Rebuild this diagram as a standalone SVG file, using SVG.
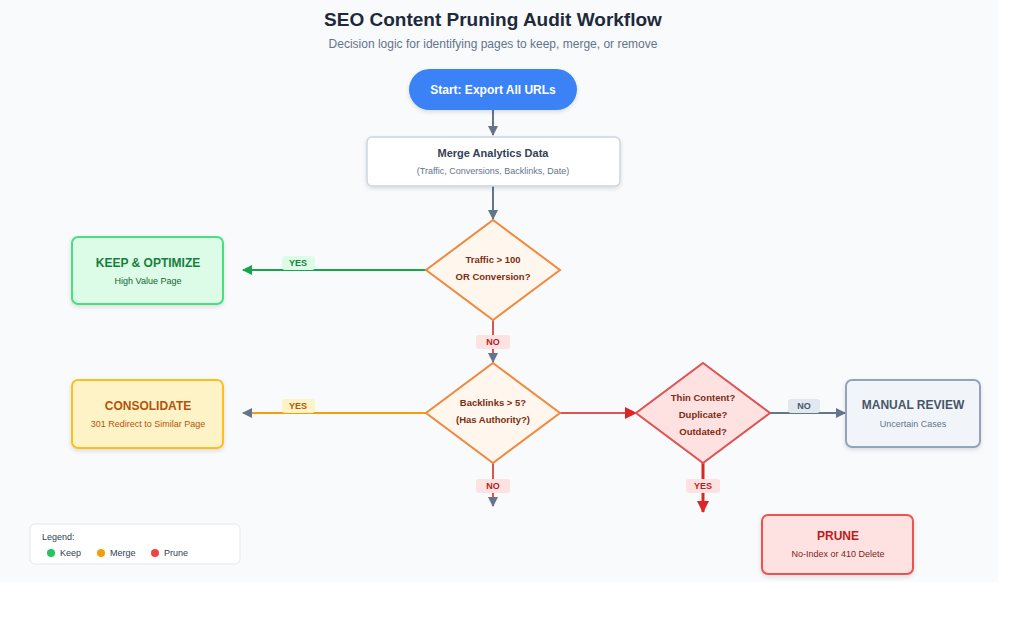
<svg xmlns="http://www.w3.org/2000/svg" width="1024" height="627" viewBox="0 0 1024 627">
<defs>
<marker id="ag" markerWidth="10" markerHeight="10" refX="9" refY="5" orient="auto" markerUnits="userSpaceOnUse"><path d="M0,0 L10,5 L0,10 z" fill="#16a34a"/></marker>
<marker id="as" markerWidth="10" markerHeight="10" refX="9" refY="5" orient="auto" markerUnits="userSpaceOnUse"><path d="M0,0 L10,5 L0,10 z" fill="#64748b"/></marker>
<marker id="ar" markerWidth="12" markerHeight="12" refX="11" refY="6" orient="auto" markerUnits="userSpaceOnUse"><path d="M0,0 L12,6 L0,12 z" fill="#dc2626"/></marker>
<filter id="sh" x="-10%" y="-10%" width="130%" height="140%"><feDropShadow dx="0" dy="2" stdDeviation="2" flood-color="#000" flood-opacity="0.12"/></filter>
</defs>
<style>
text{font-family:"Liberation Sans",Arial,sans-serif;text-anchor:middle}
.t{font-weight:bold;font-size:12px}
.s{font-size:9px}
.d{font-weight:bold;font-size:9.5px;fill:#7c2d12}
.lb{font-weight:bold;font-size:9px}
.c{fill:none;stroke-width:2}
</style>
<rect width="1024" height="627" fill="#ffffff"/>
<rect x="0" y="0" width="998" height="582" fill="#f8fafc"/>
<text x="493" y="26" font-size="19" font-weight="bold" fill="#1e293b">SEO Content Pruning Audit Workflow</text>
<text x="493" y="48" font-size="12" fill="#64748b">Decision logic for identifying pages to keep, merge, or remove</text>

<g id="connectors">
<line class="c" x1="493" y1="110" x2="493" y2="135" stroke="#64748b" marker-end="url(#as)"/>
<line class="c" x1="493" y1="186" x2="493" y2="219" stroke="#64748b" marker-end="url(#as)"/>
<line class="c" x1="426" y1="270" x2="243" y2="270" stroke="#16a34a" marker-end="url(#ag)"/>
<rect x="282" y="256" width="33" height="14" rx="3" fill="#dcfce7"/><text class="lb" x="298" y="266" fill="#15803d">YES</text>
<line class="c" x1="493" y1="320" x2="493" y2="362" stroke="#e05252" marker-end="url(#as)"/>
<rect x="476" y="335" width="34" height="14" rx="3" fill="#fee2e2"/><text class="lb" x="493" y="345" fill="#b91c1c">NO</text>
<line class="c" x1="426" y1="413" x2="243" y2="413" stroke="#f59e0b" marker-end="url(#as)"/>
<rect x="282" y="399" width="33" height="14" rx="3" fill="#fef3c7"/><text class="lb" x="298" y="409" fill="#b45309">YES</text>
<line class="c" x1="560" y1="413" x2="636" y2="413" stroke="#e05252" marker-end="url(#ar)"/>
<line class="c" x1="770" y1="413" x2="845" y2="413" stroke="#64748b" marker-end="url(#as)"/>
<rect x="788" y="399" width="32" height="14" rx="3" fill="#e2e8f0"/><text class="lb" x="804" y="409" fill="#475569">NO</text>
<line class="c" x1="493" y1="463" x2="493" y2="506" stroke="#e05252" marker-end="url(#as)"/>
<rect x="476" y="479" width="34" height="14" rx="3" fill="#fee2e2"/><text class="lb" x="493" y="489" fill="#b91c1c">NO</text>
<line x1="703" y1="463" x2="703" y2="512" stroke="#dc2626" stroke-width="3" marker-end="url(#ar)"/>
<rect x="686" y="479" width="34" height="14" rx="3" fill="#fee2e2"/><text class="lb" x="703" y="489" fill="#b91c1c">YES</text>
</g>

<g id="start"><rect x="409" y="69" width="168" height="41" rx="20.5" fill="#3b82f6" filter="url(#sh)"/><text class="t" x="493" y="94" fill="#fff">Start: Export All URLs</text></g>
<g id="merge"><rect x="367" y="137" width="253" height="49" rx="5" fill="#fff" stroke="#cbd5e1" stroke-width="1.5" filter="url(#sh)"/><text x="493" y="157" font-size="11" font-weight="bold" fill="#334155">Merge Analytics Data</text><text class="s" x="493" y="174" fill="#64748b">(Traffic, Conversions, Backlinks, Date)</text></g>
<g id="d1"><polygon points="493,220 560,270 493,320 426,270" fill="#fff7ed" stroke="#f0883e" stroke-width="2"/><text class="d" x="493" y="263">Traffic &gt; 100</text><text class="d" x="493" y="280">OR Conversion?</text></g>
<g id="keep"><rect x="72" y="237" width="151" height="67" rx="6" fill="#dcfce7" stroke="#4ade80" stroke-width="2" filter="url(#sh)"/><text class="t" x="148" y="267" fill="#15803d">KEEP &amp; OPTIMIZE</text><text class="s" x="148" y="284" fill="#166534">High Value Page</text></g>
<g id="d2"><polygon points="493,363 560,413 493,463 426,413" fill="#fff7ed" stroke="#f0883e" stroke-width="2"/><text class="d" x="493" y="406">Backlinks &gt; 5?</text><text class="d" x="493" y="423">(Has Authority?)</text></g>
<g id="consolidate"><rect x="72" y="380" width="151" height="68" rx="6" fill="#fef3c7" stroke="#fbbf24" stroke-width="2" filter="url(#sh)"/><text class="t" x="148" y="410" fill="#b45309">CONSOLIDATE</text><text class="s" x="148" y="427" fill="#b45309">301 Redirect to Similar Page</text></g>
<g id="d3"><polygon points="703,363 770,413 703,463 636,413" fill="#fee2e2" stroke="#e05252" stroke-width="2"/><text class="d" x="703" y="401">Thin Content?</text><text class="d" x="703" y="418">Duplicate?</text><text class="d" x="703" y="435">Outdated?</text></g>
<g id="review"><rect x="846" y="380" width="134" height="67" rx="6" fill="#f1f5f9" stroke="#94a3b8" stroke-width="2" filter="url(#sh)"/><text class="t" x="913" y="409" fill="#475569">MANUAL REVIEW</text><text class="s" x="913" y="427" fill="#64748b">Uncertain Cases</text></g>
<g id="prune"><rect x="762" y="515" width="151" height="59" rx="6" fill="#fee2e2" stroke="#ef5350" stroke-width="2" filter="url(#sh)"/><text class="t" x="838" y="540" fill="#b91c1c">PRUNE</text><text class="s" x="838" y="557" fill="#7f1d1d">No-Index or 410 Delete</text></g>
<g id="legend"><rect x="30" y="524" width="210" height="40" rx="5" fill="#fff" stroke="#e2e8f0"/><text x="42" y="540" font-size="9" fill="#334155" style="text-anchor:start">Legend:</text>
<circle cx="51" cy="553" r="4" fill="#22c55e"/><text class="s" x="60" y="556" fill="#334155" style="text-anchor:start">Keep</text>
<circle cx="101" cy="553" r="4" fill="#f59e0b"/><text class="s" x="110" y="556" fill="#334155" style="text-anchor:start">Merge</text>
<circle cx="155" cy="553" r="4" fill="#ef4444"/><text class="s" x="164" y="556" fill="#334155" style="text-anchor:start">Prune</text></g>
</svg>
